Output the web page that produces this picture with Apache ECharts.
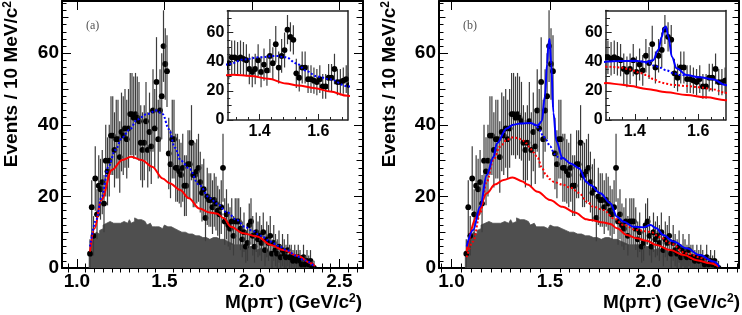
<!DOCTYPE html>
<html><head><meta charset="utf-8">
<script src="https://cdn.jsdelivr.net/npm/echarts@6/dist/echarts.min.js"></script>
<style>html,body{margin:0;padding:0;background:#fff}#c{width:742px;height:315px}</style>
</head><body><div id="c"></div>
<script>
// ---------------- data ----------------
const binStart = 1.07, binWidth = 0.01;
const dataCounts = [4,17,9,25,15,23,22,24,18,30, 27,30,37,37,33,36,36,31,38,37, 39,36,39,43,43,42,43,42,41,35,
  33,35,41,33,38,34,44,39,52,36, 44,48,62,57,55,32,29,36,36,28, 28,27,26,28,23,23,29,29,35,26,
  26,27,28,24,21,22,14,20,19,19, 17,19,18,16,15,17,28,13,15,12, 11,13,9,13,13,13,11,8,10,6,
  7,12,13,9,6,10,8,9,7,10, 5,8,7,9,4,7,5,4,6,3, 5,4,3,5,3,3,2,3,2,3, 2,1,3,1,2,1,2,0,0];
const dataErrors = [4,7.5,5.5,9,7,8.5,8.5,9,8,10, 9.5,10,11,11,10.5,11,11,10,11,11, 11,11,11,11.5,11.5,11.5,11.5,11.5,11,10.5,
  10.5,10.5,11,10.5,11,10.5,11.5,11,12.5,11, 11.5,12,10,10,10,10,9.5,11,11,9.5, 9.5,9,9,9.5,8.5,8.5,9.5,9.5,10.5,9,
  9,9,9.5,8.5,8,8.5,6.5,8,7.5,7.5, 7.5,7.5,7.5,7,7,7.5,9.5,6.5,7,6, 6,6.5,5.5,6.5,6.5,6.5,6,5,5.5,4.5,
  5,6,6.5,5.5,4.5,5.5,5,5.5,5,5.5, 4.5,5,5,5.5,4,5,4.5,4,4.5,3.5, 4.5,4,3.5,4.5,3.5,3.5,3,3.5,3,3.5, 3,2.5,3.5,2.5,3,2.5,3,2,2];
const bkgHist = [3,6,8,9,10,9.5,10.5,11,12,12.5, 12.5,13,12.5,12.5,13,12.5,12,12.5,12,13, 12.5,12.5,13,13.5,12.5,13,14,13.5,14,13.5,
  13,13,12.5,12,12.5,12,11.5,11.5,11,11.5, 11,11,11.5,12,11.5,11.5,11.5,11,11,11, 10.5,10.5,10,10.5,10,10,9.5,9.5,9.5,9,
  9,9.5,9,9,8.5,9,8.5,8,8,8.5, 8.5,8,8.5,8,8,7.5,8,7.5,7.5,7.5, 7,7,6.5,7,6.5,6.5,6.5,6,6.5,6,
  6,5.5,6,5.5,6,5.5,5,5.5,5,5, 4.5,5,4.5,4.5,4,4.5,4,4,3.5,3.5, 3.5,3.5,3,3.5,3,3,2.5,2.5,2.5,2, 2,1.5,1.5,1.2,1,0.8,0.6,0.4,0.2];

// fit curves, panel (a)
const redA = [[1.075,4.6],[1.10,11],[1.14,19],[1.20,27.4],[1.26,30.2],[1.31,31.1],[1.37,30.2],[1.43,28.3],[1.49,25],[1.53,23.7],
  [1.59,21.8],[1.64,19.5],[1.70,16.6],[1.76,15.5],[1.80,15.2],[1.84,13.9],[1.88,11.5],[1.95,9.7],[2.03,8.8],[2.11,6.4],
  [2.18,5],[2.26,3.4],[2.34,1.3],[2.36,0.5]];
const blueA = [[1.075,6],[1.11,13.4],[1.142,20],[1.18,28.3],[1.22,33],[1.26,36.5],[1.30,38.6],[1.345,41.5],[1.40,43],[1.455,44],
  [1.49,43],[1.526,38.8],[1.56,33.6],[1.594,30],[1.64,27.9],[1.697,23.3],[1.76,19.5],[1.80,18],[1.86,15.5],[1.914,13.4],
  [1.96,11.5],[2.0,10.5],[2.05,9],[2.107,7.4],[2.15,6.2],[2.2,5],[2.25,3.5],[2.3,2.2],[2.36,0.3]];
// fit curves, panel (b)
const blueB = [[1.077,6],[1.11,10.6],[1.145,17.1],[1.179,26],[1.213,31],[1.23,34.8],[1.28,39],[1.313,40],[1.348,40.4],[1.40,40.5],
  [1.437,39.8],[1.458,41],[1.474,48],[1.485,57],[1.492,62.8],[1.498,64],[1.506,57],[1.517,43.4],[1.532,35.4],[1.563,30.8],
  [1.605,29.2],[1.647,27.9],[1.686,24],[1.704,23.2],[1.755,20.9],[1.806,18.1],[1.84,14.3],[1.874,12.9],[1.924,11.5],[1.975,11.4],
  [2.01,12],[2.04,11.1],[2.075,9.2],[2.126,7.4],[2.194,5.5],[2.26,3.6],[2.33,1.8],[2.36,0.4]];
const blueDotB = [[1.42,40.2],[1.44,39.2],[1.465,37],[1.48,35.8],[1.50,34],[1.524,31.8],[1.545,30.8],[1.565,30.3]];
const redDotB = [[1.077,3],[1.11,7.4],[1.145,15.3],[1.179,24.1],[1.213,30.2],[1.246,33.9],[1.28,35.8],[1.314,36.5],[1.353,36],
  [1.382,34.8],[1.395,33.8],[1.416,32.3],[1.437,30.8],[1.459,28],[1.479,26],[1.50,24.8],[1.521,24],[1.563,23.3],[1.605,22.4],
  [1.647,21],[1.686,18.6],[1.72,17.1],[1.772,16.2],[1.823,13.9],[1.874,12],[1.94,10.6],[2.01,10.1],[2.06,8.6],[2.11,6.9],
  [2.19,4.1],[2.28,2.7],[2.355,0.4]];
const redB = [[1.077,4.6],[1.128,14.3],[1.179,20.9],[1.22,23.3],[1.264,24.6],[1.31,25.3],[1.36,24.2],[1.385,23.3],[1.437,21.3],
  [1.50,19],[1.563,17.1],[1.626,15.5],[1.686,13.6],[1.704,13.4],[1.772,12.7],[1.806,12.3],[1.84,11.1],[1.89,9.2],[1.94,8.3],
  [1.99,7.6],[2.04,6.4],[2.11,5],[2.18,3.6],[2.245,2.2],[2.313,1.3],[2.355,0.4]];

// tick labels
const mainXLabelsA = [1.0,1.5,2.0,2.5];
const mainXLabelsB = [1.0,1.5,2.0];
const mainYLabels = [0,20,40,60];
const insetXLabels = [1.4,1.6];
const insetYLabels = [0,20,40,60];

// ---------------- build ----------------
const FONT = 'Liberation Sans';
const grids = [], xAxes = [], yAxes = [];
function steps(a, b, s, exclude) {
  const r = [];
  for (let k = Math.ceil(a / s - 1e-9); k * s <= b + 1e-9; k++) {
    const v = +(k * s).toFixed(4);
    if (!exclude || !exclude.some(e => Math.abs(e - v) < 1e-6)) r.push(v);
  }
  return r;
}
function addPanel(g, xr, yr, c) {
  const gi = grids.length;
  grids.push(Object.assign({containLabel: false, outerBoundsMode: 'none', show: false}, g));
  const xi = xAxes.length, yi = yAxes.length;
  const frame = {color: c.frame, width: c.frameW};
  const tickLs = {color: c.frame, width: 1};
  const lab = {fontFamily: FONT, fontWeight: 'bold', fontSize: c.fs, color: '#000'};
  const xMajor = steps(xr[0], xr[1], c.xMajor);
  const xMinor = steps(xr[0], xr[1], c.xMinor, xMajor);
  const yMajor = steps(yr[0], yr[1], c.yMajor);
  const yMed = c.yMed ? steps(yr[0], yr[1], c.yMed, yMajor) : [];
  const yMinor = steps(yr[0], yr[1], c.yMinor, yMajor.concat(yMed));
  const bx = {type: 'value', gridIndex: gi, min: xr[0], max: xr[1], splitLine: {show: false}};
  const by = {type: 'value', gridIndex: gi, min: yr[0], max: yr[1], splitLine: {show: false}};
  const tick = (vals, len) => ({show: true, inside: true, length: len, customValues: vals, lineStyle: tickLs});
  xAxes.push(Object.assign({}, bx, {position: 'bottom', axisLine: {show: true, onZero: false, lineStyle: frame},
    axisTick: tick(xMajor, c.tl), axisLabel: Object.assign({show: true, customValues: c.xLabels, margin: c.xm,
      formatter: v => (+v).toFixed(1)}, lab)}));
  xAxes.push(Object.assign({}, bx, {position: 'bottom', axisLine: {show: false}, axisTick: tick(xMinor, c.tl * 0.5), axisLabel: {show: false}}));
  if (c.full) {
    xAxes.push(Object.assign({}, bx, {position: 'top', axisLine: {show: true, onZero: false, lineStyle: frame}, axisTick: tick(xMajor, c.tl), axisLabel: {show: false}}));
    xAxes.push(Object.assign({}, bx, {position: 'top', axisLine: {show: false}, axisTick: tick(xMinor, c.tl * 0.5), axisLabel: {show: false}}));
  } else {
    xAxes.push(Object.assign({}, bx, {position: 'top', axisLine: {show: true, onZero: false, lineStyle: frame}, axisTick: {show: false}, axisLabel: {show: false}}));
  }
  yAxes.push(Object.assign({}, by, {position: 'left', axisLine: {show: true, onZero: false, lineStyle: frame},
    axisTick: tick(yMajor, c.tl), axisLabel: Object.assign({show: true, customValues: c.yLabels, margin: c.ym,
      formatter: v => String(Math.round(v))}, lab)}));
  yAxes.push(Object.assign({}, by, {position: 'left', axisLine: {show: false}, axisTick: tick(yMinor, c.tl * 0.5), axisLabel: {show: false}}));
  if (yMed.length) yAxes.push(Object.assign({}, by, {position: 'left', axisLine: {show: false}, axisTick: tick(yMed, c.tl * 0.72), axisLabel: {show: false}}));
  if (c.full) {
    yAxes.push(Object.assign({}, by, {position: 'right', axisLine: {show: true, onZero: false, lineStyle: frame}, axisTick: tick(yMajor, c.tl), axisLabel: {show: false}}));
    yAxes.push(Object.assign({}, by, {position: 'right', axisLine: {show: false}, axisTick: tick(yMinor, c.tl * 0.5), axisLabel: {show: false}}));
    if (yMed.length) yAxes.push(Object.assign({}, by, {position: 'right', axisLine: {show: false}, axisTick: tick(yMed, c.tl * 0.72), axisLabel: {show: false}}));
  } else {
    yAxes.push(Object.assign({}, by, {position: 'right', axisLine: {show: true, onZero: false, lineStyle: frame}, axisTick: {show: false}, axisLabel: {show: false}}));
  }
  return {xAxisIndex: xi, yAxisIndex: yi};
}

const mainCfg = (xl) => ({frame: '#000', frameW: 2, fs: 19, tl: 9, xm: 4, ym: 3, full: true,
  xMajor: 0.5, xMinor: 0.05, yMajor: 20, yMed: 10, yMinor: 2, xLabels: xl, yLabels: mainYLabels});
const insetCfg = {frame: '#222', frameW: 1.5, fs: 16, tl: 6, xm: 4, ym: 3, full: false,
  xMajor: 0.2, xMinor: 0.04, yMajor: 20, yMed: 10, yMinor: 5, xLabels: insetXLabels, yLabels: insetYLabels};

const A = addPanel({left: 62, top: 1, width: 301, height: 267}, [0.915, 2.635], [0, 74.6], mainCfg(mainXLabelsA));
const B = addPanel({left: 439, top: 1, width: 300, height: 267}, [0.9365, 2.459], [0, 74.6], mainCfg(mainXLabelsB));
const IA = addPanel({left: 227.3, top: 10.7, width: 120.4, height: 109.3}, [1.29, 1.70], [0, 75], insetCfg);
const IB = addPanel({left: 605.7, top: 10.5, width: 120, height: 109.5}, [1.308, 1.687], [0, 75], insetCfg);

const pts = dataCounts.map((c, i) => [+(binStart + binWidth * (i + 0.5)).toFixed(4), c, dataErrors[i]]);
// histogram outline as a step polygon built from the bins
const histSteps = [[binStart, 0]];
bkgHist.forEach((h, i) => {
  const lo = +(binStart + binWidth * i).toFixed(4), hi = +(binStart + binWidth * (i + 1)).toFixed(4);
  histSteps.push([lo, h], [hi, h]);
});
histSteps.push([+(binStart + binWidth * bkgHist.length).toFixed(4), 0]);

function histSeries(ax) {
  return Object.assign({type: 'line', data: histSteps, showSymbol: false, symbol: 'none', smooth: false, silent: true, z: 1,
    clip: true, lineStyle: {color: '#4f4f4f', width: 0.8}, areaStyle: {color: '#4f4f4f', opacity: 1, origin: 'start'}}, ax);
}
function pointSeries(ax, r) {
  return Object.assign({type: 'custom', clip: true, z: 2, silent: true, data: pts,
    renderItem: (p, api) => {
      const x = api.value(0), y = api.value(1), e = api.value(2);
      const c = api.coord([x, y]), t = api.coord([x, y + e]), b = api.coord([x, Math.max(0, y - e)]);
      return {type: 'group', children: [
        {type: 'line', shape: {x1: c[0], y1: t[1], x2: c[0], y2: b[1]}, style: {stroke: '#3c3c3c', lineWidth: 1.2}},
        {type: 'circle', shape: {cx: c[0], cy: c[1], r: r}, style: {fill: '#000'}}
      ]};
    }}, ax);
}
function curve(ax, data, color, dash, w) {
  return Object.assign({type: 'line', data: data, showSymbol: false, symbol: 'none', smooth: 0.35, smoothMonotone: 'x',
    silent: true, z: 3, clip: true, lineStyle: {color: color, width: w || 2, type: dash || 'solid'}}, ax);
}

const series = [
  histSeries(A), pointSeries(A, 2.9), curve(A, redA, '#ff0000'), curve(A, blueA, '#0000ff', [2, 2]),
  pointSeries(IA, 2.9), curve(IA, redA, '#ff0000'), curve(IA, blueA, '#0000ff', [2, 2]),
  histSeries(B), pointSeries(B, 2.9), curve(B, redB, '#ff0000'), curve(B, redDotB, '#ff0000', [2, 2]),
  curve(B, blueDotB, '#0000ff', [2, 2]), curve(B, blueB, '#0000ff'),
  pointSeries(IB, 2.9), curve(IB, redB, '#ff0000'), curve(IB, redDotB, '#ff0000', [2, 2]),
  curve(IB, blueDotB, '#0000ff', [2, 2]), curve(IB, blueB, '#0000ff')
];

const titleStyle = (text, align, va) => ({text: text, fontFamily: FONT, fontWeight: 'bold', fontSize: 19, fill: '#000',
  align: align, verticalAlign: va,
  rich: {sup: {fontFamily: FONT, fontWeight: 'bold', fontSize: 12, fill: '#000', verticalAlign: 'top', lineHeight: 20}}});
const yTitle = 'Events / 10 MeV/c{sup|2}';
const xTitle = 'M(p\u03c0{sup|-}) (GeV/c{sup|2})';
const graphic = [
  {type: 'text', x: 12, y: 1, rotation: Math.PI / 2, style: titleStyle(yTitle, 'right', 'middle')},
  {type: 'text', x: 390, y: 1, rotation: Math.PI / 2, style: titleStyle(yTitle, 'right', 'middle')},
  {type: 'text', x: 362, y: 313, style: titleStyle(xTitle, 'right', 'bottom')},
  {type: 'text', x: 740, y: 313, style: titleStyle(xTitle, 'right', 'bottom')},
  {type: 'text', x: 86, y: 20, style: {text: '(a)', fontFamily: 'Liberation Serif', fontSize: 12, fill: '#555'}},
  {type: 'text', x: 463, y: 20, style: {text: '(b)', fontFamily: 'Liberation Serif', fontSize: 12, fill: '#555'}}
];

const chart = echarts.init(document.getElementById('c'), null, {renderer: 'canvas'});
chart.setOption({animation: false, backgroundColor: '#fff', grid: grids, xAxis: xAxes, yAxis: yAxes, series: series, graphic: graphic});
</script></body></html>
